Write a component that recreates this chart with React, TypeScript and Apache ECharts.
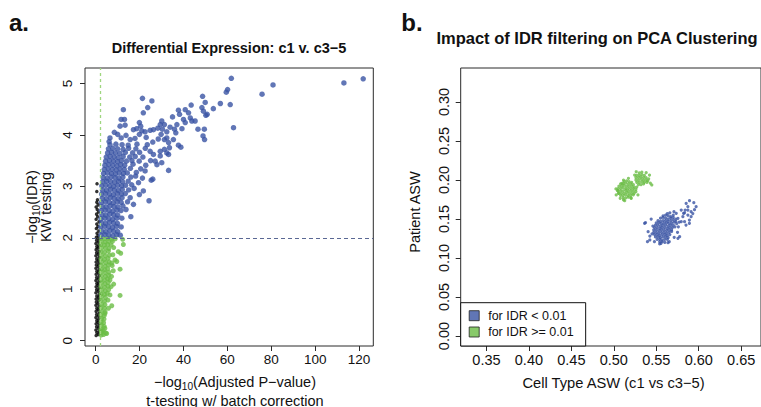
import React, { useEffect, useRef } from "react";
import * as echarts from "echarts";

const FONT = '"Liberation Sans", Arial, Helvetica, sans-serif';
const BLUE = "#3a54a4";
const GREEN = "#6abd45";

// ---------- Panel a: ticks ----------
const xTicksA = [0, 20, 40, 60, 80, 100, 120];
const yTicksA = [0, 1, 2, 3, 4, 5];
const idrCut = 2; // -log10(0.01)
const pCut = 2; // -log10(0.01)

// ---------- Panel b: ticks ----------
const xTicksB = [0.35, 0.4, 0.45, 0.5, 0.55, 0.6, 0.65];
const yTicksB = [0, 0.05, 0.1, 0.15, 0.2, 0.25, 0.3];

// ---------- Panel a: genes (x = -log10 adj p, y = -log10 IDR) ----------
const notSigT = [
  [0.2,0.10],[1.3,0.12],[0.5,0.16],[1.6,0.18],[0.1,0.21],[1.2,0.24],[0.4,0.27],[1.5,0.30],[0.2,0.33],[1.1,0.36],
  [0.5,0.39],[1.4,0.42],[0.1,0.45],[1.3,0.48],[0.4,0.51],[1.6,0.54],[0.2,0.57],[1.2,0.60],[0.5,0.63],[1.5,0.66],
  [0.1,0.69],[1.1,0.72],[0.3,0.75],[1.4,0.78],[0.2,0.81],[1.3,0.84],[0.5,0.87],[1.6,0.90],[0.1,0.93],[1.2,0.96],
  [0.4,0.99],[1.5,1.02],[0.2,1.05],[1.1,1.08],[0.5,1.11],[1.4,1.14],[0.1,1.17],[1.3,1.20],[0.4,1.23],[1.6,1.26],
  [0.2,1.29],[1.2,1.32],[0.5,1.35],[1.5,1.38],[0.1,1.41],[1.1,1.44],[0.3,1.47],[1.4,1.50],[0.2,1.53],[1.3,1.56],
  [0.5,1.59],[1.6,1.62],[0.1,1.65],[1.2,1.68],[0.4,1.71],[1.5,1.74],[0.2,1.77],[1.1,1.80],[0.5,1.83],[1.4,1.86],
  [0.1,1.89],[1.3,1.92],[0.4,1.95],[1.5,1.98],[0.3,2.01],[1.1,2.04],
  [0.6,2.09],[1.4,2.13],[0.3,2.18],[1.0,2.22],[0.5,2.27],[1.5,2.31],[0.2,2.36],[0.9,2.41],[0.4,2.46],[1.3,2.50],
  [0.7,2.55],[0.2,2.60],[1.1,2.64],[0.5,2.69],[0.8,2.74],[0.5,2.90],[0.6,3.05]
];

const sigTOnly = [
  [2.5,1.99],[4.1,1.98],[5.7,1.99],[7.3,1.97],[8.9,1.98],[12.3,1.97],
  [2.6,1.93],[4.3,1.92],[5.9,1.93],[7.6,1.93],
  [2.4,1.87],[4.0,1.86],[5.5,1.87],[7.0,1.86],[12.6,1.87],
  [2.7,1.80],[4.4,1.80],[6.0,1.79],[8.2,1.81],
  [2.5,1.73],[4.1,1.72],[5.8,1.74],[10.3,1.73],[11.4,1.70],
  [2.6,1.66],[4.3,1.65],[6.2,1.66],[7.8,1.67],
  [2.4,1.59],[4.0,1.58],[5.6,1.60],[8.8,1.57],
  [2.7,1.53],[4.5,1.52],[6.1,1.53],[7.4,1.51],[9.6,1.54],
  [2.5,1.46],[4.2,1.45],[5.8,1.47],[7.5,1.46],
  [2.6,1.39],[4.1,1.38],[5.5,1.40],[11.1,1.39],
  [2.4,1.33],[4.3,1.32],[6.0,1.33],[8.0,1.36],
  [2.7,1.26],[4.4,1.25],[5.9,1.27],[7.2,1.25],
  [2.5,1.19],[4.0,1.18],[5.4,1.20],[6.5,1.18],
  [2.6,1.12],[4.2,1.11],[5.7,1.13],[8.2,1.10],
  [2.4,1.05],[4.1,1.04],[5.6,1.06],[7.0,1.05],
  [2.7,0.98],[4.3,0.97],[5.9,0.99],
  [2.5,0.91],[4.0,0.90],[5.3,0.92],[6.5,0.89],
  [2.6,0.85],[4.4,0.84],[11.1,0.88],
  [2.4,0.78],[4.1,0.77],[5.6,0.79],
  [2.7,0.71],[4.2,0.70],[7.3,0.68],
  [2.5,0.64],[4.0,0.63],[5.8,0.63],
  [2.6,0.57],[4.3,0.56],
  [2.4,0.50],[3.9,0.49],[4.2,0.53],
  [2.7,0.43],[3.8,0.42],
  [2.5,0.36],[3.6,0.35],
  [2.6,0.29],[3.9,0.28],
  [2.4,0.22],[4.2,0.24],[3.4,0.20],
  [2.7,0.16],[4.5,0.15],[5.0,0.14],
  [2.5,0.11],[3.6,0.12],[2.7,0.18]
];

const sigBoth = [
  [2.4,2.05],[4.2,2.06],[6.0,2.05],[7.8,2.04],[9.6,2.06],[11.2,2.05],
  [2.8,2.13],[4.6,2.12],[6.4,2.14],[8.2,2.13],[10.0,2.12],
  [2.3,2.21],[4.1,2.22],[5.9,2.21],[7.7,2.20],[9.5,2.22],[11.6,2.21],
  [2.7,2.29],[4.5,2.28],[6.3,2.30],[8.1,2.29],[9.9,2.28],
  [2.4,2.37],[4.2,2.38],[6.0,2.37],[7.8,2.36],[9.6,2.38],[11.9,2.38],
  [2.8,2.45],[4.6,2.44],[6.4,2.46],[8.2,2.45],[10.0,2.44],[16.0,2.41],
  [2.5,2.53],[4.3,2.54],[6.1,2.53],[7.9,2.52],[9.7,2.54],[11.5,2.53],[13.8,2.55],
  [2.9,2.61],[4.7,2.60],[6.5,2.62],[8.3,2.61],[10.1,2.60],[12.4,2.62],
  [2.6,2.69],[4.4,2.70],[6.2,2.69],[8.0,2.68],[9.8,2.70],[11.6,2.69],[14.5,2.70],[24.3,2.72],[17.2,2.65],
  [3.0,2.77],[4.8,2.76],[6.6,2.78],[8.4,2.77],[10.2,2.76],[12.0,2.78],[15.7,2.78],
  [2.7,2.85],[4.5,2.86],[6.3,2.85],[8.1,2.84],[9.9,2.86],[11.7,2.85],[13.5,2.86],[19.9,2.84],
  [3.1,2.93],[4.9,2.92],[6.7,2.94],[8.5,2.93],[10.3,2.92],[12.1,2.94],[15.0,2.93],[21.7,2.91],[17.5,2.96],
  [2.8,3.01],[4.6,3.02],[6.4,3.01],[8.2,3.00],[10.0,3.02],[11.8,3.01],[13.6,3.02],[16.4,3.03],[19.5,3.07],
  [3.2,3.09],[5.0,3.10],[6.8,3.09],[8.6,3.08],[10.4,3.10],[12.2,3.09],[14.8,3.10],[25.3,3.12],
  [3.4,3.17],[5.2,3.16],[7.0,3.18],[8.8,3.17],[10.6,3.16],[12.4,3.18],[16.0,3.18],[21.3,3.16],[26.0,3.14],[18.2,3.20],
  [3.6,3.25],[5.4,3.26],[7.2,3.25],[9.0,3.24],[10.8,3.26],[12.6,3.25],[14.4,3.26],[18.5,3.27],
  [3.9,3.33],[5.7,3.34],[7.5,3.33],[9.3,3.32],[11.1,3.34],[13.0,3.33],[15.8,3.35],[20.5,3.34],[22.5,3.30],[33.2,3.31],
  [4.2,3.41],[6.0,3.42],[7.8,3.41],[9.6,3.40],[11.4,3.42],[13.2,3.41],[17.0,3.43],[22.8,3.41],[27.9,3.42],
  [4.5,3.49],[6.3,3.50],[8.1,3.49],[9.9,3.48],[11.7,3.50],[14.0,3.49],[16.5,3.50],[19.8,3.49],[25.0,3.50],[27.1,3.49],[30.1,3.46],
  [4.8,3.57],[6.6,3.58],[8.4,3.57],[10.2,3.56],[12.5,3.58],[15.5,3.57],[18.0,3.58],[21.5,3.57],[29.4,3.59],
  [5.4,3.65],[7.2,3.66],[9.0,3.65],[11.0,3.64],[13.5,3.66],[16.8,3.65],[20.0,3.66],[24.8,3.68],[26.3,3.62],[32.4,3.65],[33.2,3.62],[29.4,3.68],
  [5.8,3.73],[7.8,3.74],[10.0,3.73],[12.5,3.72],[15.0,3.74],[18.3,3.73],[22.6,3.74],[31.3,3.72],[33.6,3.75],[38.8,3.76],
  [6.5,3.81],[9.2,3.82],[12.0,3.81],[14.8,3.80],[18.8,3.82],[23.5,3.81],[37.7,3.80],[33.2,3.85],
  [26.0,3.86],[28.5,3.92],[23.0,3.95],[8.5,4.05],
  [6.1,3.87],[6.5,3.94],[10.0,4.01],[11.6,3.94],[13.8,3.99],[15.7,3.91],[17.9,3.93],[19.9,4.01],[11.1,4.17],[13.4,4.19],
  [11.6,4.30],[13.1,4.30],[12.6,4.49],[17.2,4.10],[18.7,4.12],[21.0,4.08],[22.5,4.06],[24.8,4.09],[26.3,4.10],[28.3,4.13],
  [19.9,4.24],[20.5,4.17],[21.7,4.43],[23.7,4.53],[21.3,4.71],[25.6,4.66],[29.4,4.20],[30.1,4.27],[31.3,4.20],[30.4,4.11],
  [29.8,4.01],[32.4,3.94],[31.3,3.91],[32.4,4.06],[33.9,4.15],[35.9,4.11],[36.5,4.04],[35.4,3.91],[35.0,4.35],[37.0,4.20],
  [39.3,4.12],[37.7,4.48],[38.2,4.40],[40.0,4.30],[40.8,4.24],[40.8,4.49],[42.3,4.43],[43.1,4.33],[43.8,4.27],[45.3,4.27],
  [43.5,4.58],[46.6,4.11],[49.5,4.11],[48.9,3.98],[49.6,3.91],[48.4,4.53],[49.1,4.46],[49.9,4.63],[50.2,4.38],[50.8,4.40],
  [48.7,4.75],[53.6,4.51],[56.8,4.61],[59.5,4.83],[60.1,4.88],[61.8,5.10],[61.3,4.59],[62.8,4.14],[75.8,4.79],[80.8,4.97],
  [113.1,5.01],[121.9,5.09]
];

// ---------- Panel b: ASW (x = cell type ASW, y = patient ASW) ----------
const aswLowIdr = [
  [0.563,0.157],[0.566,0.158],
  [0.558,0.154],[0.561,0.155],[0.564,0.154],[0.567,0.153],[0.570,0.155],
  [0.555,0.151],[0.558,0.152],[0.561,0.151],[0.564,0.150],[0.567,0.151],[0.570,0.152],[0.573,0.150],
  [0.552,0.148],[0.555,0.147],[0.558,0.148],[0.561,0.148],[0.564,0.147],[0.567,0.148],[0.570,0.149],[0.573,0.147],
  [0.550,0.145],[0.553,0.145],[0.556,0.144],[0.559,0.145],[0.562,0.145],[0.565,0.144],[0.568,0.145],[0.571,0.146],[0.574,0.144],
  [0.549,0.142],[0.552,0.142],[0.555,0.141],[0.558,0.142],[0.561,0.142],[0.564,0.141],[0.567,0.142],[0.570,0.142],
  [0.548,0.139],[0.551,0.139],[0.554,0.138],[0.557,0.139],[0.560,0.139],[0.563,0.138],[0.566,0.139],[0.569,0.139],[0.572,0.140],
  [0.547,0.136],[0.550,0.136],[0.553,0.135],[0.556,0.136],[0.559,0.136],[0.562,0.135],[0.565,0.136],[0.568,0.136],
  [0.547,0.133],[0.550,0.133],[0.553,0.132],[0.556,0.133],[0.559,0.133],[0.562,0.132],[0.565,0.133],[0.568,0.134],
  [0.548,0.130],[0.551,0.130],[0.554,0.129],[0.557,0.130],[0.560,0.130],[0.563,0.129],[0.566,0.130],
  [0.549,0.127],[0.552,0.127],[0.555,0.126],[0.558,0.127],[0.561,0.127],[0.564,0.126],
  [0.551,0.124],[0.554,0.124],[0.557,0.123],[0.560,0.124],[0.563,0.124],
  [0.554,0.121],[0.557,0.121],[0.560,0.120],
  [0.5373,0.1453],[0.5404,0.1337],[0.5424,0.1231],[0.5396,0.1209],[0.5424,0.1282],[0.554,0.118],[0.5638,0.1196],
  [0.5755,0.1253],[0.5775,0.1273],[0.5362,0.1445],[0.5478,0.1209],[0.5556,0.1188],[0.5653,0.121],[0.5711,0.1265],
  [0.544,0.150],[0.546,0.141],[0.545,0.131],[0.576,0.140],[0.577,0.146],[0.575,0.133],
  [0.5852,0.170],[0.5891,0.1735],[0.5969,0.1658],[0.5872,0.1615],[0.591,0.1594],[0.5833,0.158],[0.5813,0.153],
  [0.5872,0.155],[0.589,0.1487],[0.593,0.157],[0.595,0.162],[0.585,0.1423],[0.589,0.1445],[0.5833,0.1466],
  [0.5794,0.1466],[0.5755,0.1509],[0.5735,0.1573],[0.5708,0.1594],[0.5942,0.171],[0.5872,0.1658],[0.584,0.1615],
  [0.5821,0.1573],[0.591,0.153],[0.5794,0.1615]
];

const aswHighIdr = [
  [0.512,0.198],[0.515,0.199],[0.518,0.198],[0.521,0.197],
  [0.508,0.195],[0.511,0.195],[0.514,0.196],[0.517,0.195],[0.520,0.195],[0.523,0.194],
  [0.506,0.192],[0.509,0.192],[0.512,0.193],[0.515,0.192],[0.518,0.192],[0.521,0.192],[0.524,0.191],
  [0.505,0.189],[0.508,0.189],[0.511,0.190],[0.514,0.189],[0.517,0.189],[0.520,0.189],[0.523,0.189],[0.526,0.188],
  [0.505,0.186],[0.508,0.186],[0.511,0.186],[0.514,0.187],[0.517,0.186],[0.520,0.186],[0.523,0.186],[0.526,0.185],
  [0.506,0.183],[0.509,0.183],[0.512,0.183],[0.515,0.184],[0.518,0.183],[0.521,0.183],[0.524,0.183],
  [0.508,0.180],[0.511,0.180],[0.514,0.181],[0.517,0.180],[0.520,0.180],[0.523,0.181],
  [0.511,0.177],[0.514,0.177],[0.517,0.178],[0.520,0.177],
  [0.530,0.209],[0.533,0.210],
  [0.527,0.206],[0.530,0.206],[0.533,0.207],[0.536,0.206],
  [0.526,0.203],[0.529,0.203],[0.532,0.204],[0.535,0.203],[0.538,0.203],
  [0.526,0.200],[0.529,0.200],[0.532,0.201],[0.535,0.200],[0.538,0.200],[0.540,0.199],
  [0.527,0.197],[0.530,0.197],[0.533,0.198],[0.536,0.197],[0.539,0.197],
  [0.529,0.194],[0.532,0.194],[0.535,0.195],
  [0.5028,0.1808],[0.5055,0.1829],[0.5075,0.1765],[0.5114,0.1744],[0.5044,0.1863],[0.5447,0.1936],[0.542,0.2064],
  [0.5381,0.2094],[0.5264,0.2106],[0.5245,0.2064],[0.5284,0.1808],[0.5206,0.1765],[0.5128,0.1735],[0.5114,0.200],
  [0.5172,0.2022],[0.5095,0.1958],[0.541,0.2015],[0.527,0.191],[0.5025,0.1885],[0.543,0.196]
];

const lowName = "for IDR < 0.01";
const highName = "for IDR >= 0.01";

const txt = (text: string, x: number, y: number, fontSize: number, extra: any = {}) => ({
  type: "text",
  x,
  y,
  rotation: extra.rotation || 0,
  silent: true,
  z: 100,
  style: {
    text,
    fontSize,
    fontWeight: extra.bold ? "bold" : "normal",
    fontFamily: FONT,
    fill: "#111",
    align: "center",
    verticalAlign: "middle",
    textAlign: "center",
    textVerticalAlign: "middle",
    rich: extra.rich,
  },
});

const subRich = (size: number) => ({
  a: { fontSize: size, fontFamily: FONT, fill: "#111", lineHeight: size + 4 },
  s: { fontSize: size * 0.7, fontFamily: FONT, fill: "#111", lineHeight: size * 0.7, verticalAlign: "bottom" },
});

export default function App() {
  const ref = useRef<HTMLDivElement>(null);
  useEffect(() => {
    if (!ref.current) return;
    const chart = echarts.init(ref.current, null, { renderer: "svg" });
    const axisCommon = {
      type: "value",
      axisLine: { show: false, onZero: false },
      splitLine: { show: false },
    };
    const option: any = {
      animation: false,
      textStyle: { fontFamily: FONT },
      grid: [
        { left: 85, top: 68, width: 288.3, height: 278, show: true, borderColor: "#2b2b2b", borderWidth: 1, backgroundColor: "transparent" },
        { left: 460.7, top: 68, right: -4, height: 278, show: true, borderColor: "#2b2b2b", borderWidth: 1, backgroundColor: "transparent" },
      ],
      xAxis: [
        {
          ...axisCommon, gridIndex: 0, min: -4.88, max: 126.5,
          axisTick: { show: true, customValues: xTicksA, length: 5, lineStyle: { color: "#2b2b2b" } },
          axisLabel: { customValues: xTicksA, margin: 6, fontSize: 13.5, color: "#111", fontFamily: FONT },
        },
        {
          ...axisCommon, gridIndex: 1, min: 0.3197, max: 0.6733,
          axisTick: { show: true, customValues: xTicksB, length: 5, lineStyle: { color: "#2b2b2b" } },
          axisLabel: { customValues: xTicksB, margin: 6, fontSize: 14.5, color: "#111", fontFamily: FONT, formatter: (v: number) => v.toFixed(2) },
        },
      ],
      yAxis: [
        {
          ...axisCommon, gridIndex: 0, min: -0.103, max: 5.3,
          axisTick: { show: true, customValues: yTicksA, length: 5, lineStyle: { color: "#2b2b2b" } },
          axisLabel: { customValues: yTicksA, margin: 11, rotate: 90, fontSize: 13.5, color: "#111", fontFamily: FONT },
        },
        {
          ...axisCommon, gridIndex: 1, min: -0.0128, max: 0.3436,
          axisTick: { show: true, customValues: yTicksB, length: 5, lineStyle: { color: "#2b2b2b" } },
          axisLabel: { customValues: yTicksB, margin: 9, rotate: 90, fontSize: 14.5, color: "#111", fontFamily: FONT, formatter: (v: number) => v.toFixed(2) },
        },
      ],
      legend: {
        data: [lowName, highName],
        orient: "vertical",
        left: 460.7,
        top: 302.7,
        backgroundColor: "#fff",
        borderColor: "#111",
        borderWidth: 1,
        borderRadius: 0,
        padding: [6, 12, 7, 8],
        itemWidth: 10,
        itemHeight: 10,
        itemGap: 2.3,
        icon: "rect",
        selectedMode: false,
        itemStyle: { borderColor: "#222", borderWidth: 1 },
        textStyle: { fontSize: 12.5, color: "#111", lineHeight: 14, fontFamily: FONT, padding: [0, 0, 0, 4] },
      },
      series: [
        {
          name: "not significant (t-test)",
          type: "scatter",
          xAxisIndex: 0, yAxisIndex: 0,
          data: notSigT,
          symbol: "circle",
          symbolSize: 3.5,
          itemStyle: { color: "#000" },
          silent: true,
          markLine: {
            silent: true,
            symbol: ["none", "none"],
            label: { show: false },
            animation: false,
            data: [
              { yAxis: idrCut, lineStyle: { color: "#5a6894", type: [4, 3], width: 1 } },
              { xAxis: pCut, lineStyle: { color: "#9fd67f", type: [3, 3], width: 1.3 } },
            ],
          },
        },
        {
          name: "significant t-test only",
          type: "scatter",
          xAxisIndex: 0, yAxisIndex: 0,
          data: sigTOnly,
          symbol: "circle",
          symbolSize: 5,
          itemStyle: { color: GREEN },
          silent: true,
        },
        {
          name: "significant both",
          type: "scatter",
          xAxisIndex: 0, yAxisIndex: 0,
          data: sigBoth,
          symbol: "circle",
          symbolSize: 5.5,
          itemStyle: { color: BLUE },
          silent: true,
        },
        {
          name: lowName,
          type: "scatter",
          xAxisIndex: 1, yAxisIndex: 1,
          data: aswLowIdr,
          symbol: "circle",
          symbolSize: 3.2,
          itemStyle: { color: BLUE },
          silent: true,
        },
        {
          name: highName,
          type: "scatter",
          xAxisIndex: 1, yAxisIndex: 1,
          data: aswHighIdr,
          symbol: "circle",
          symbolSize: 3.2,
          itemStyle: { color: GREEN },
          silent: true,
        },
      ],
      graphic: [
        txt("a.", 19, 22, 24, { bold: true }),
        txt("b.", 412, 22, 24, { bold: true }),
        txt("Differential Expression: c1 v. c3\u22125", 229, 48, 14.5, { bold: true }),
        txt("Impact of IDR filtering on PCA Clustering", 597, 38, 16.5, { bold: true }),
        txt("{a|\u2212log}{s|10}{a|(IDR)}", 32, 207, 14.5, { rotation: Math.PI / 2, rich: subRich(14.5) }),
        txt("KW testing", 46, 207, 14.5, { rotation: Math.PI / 2 }),
        txt("{a|\u2212log}{s|10}{a|(Adjusted P\u2212value)}", 235, 382, 14.5, { rich: subRich(14.5) }),
        txt("t-testing w/ batch correction", 235, 400.5, 14.5),
        txt("Patient ASW", 415, 212, 14.5, { rotation: Math.PI / 2 }),
        txt("Cell Type ASW (c1 vs c3\u22125)", 613.5, 382.5, 14.7),
      ],
    };
    chart.setOption(option);
    return () => chart.dispose();
  }, []);
  return (
    <div
      ref={ref}
      style={{ position: "absolute", left: 0, top: 0, width: 761, height: 407, background: "#fff" }}
    />
  );
}
